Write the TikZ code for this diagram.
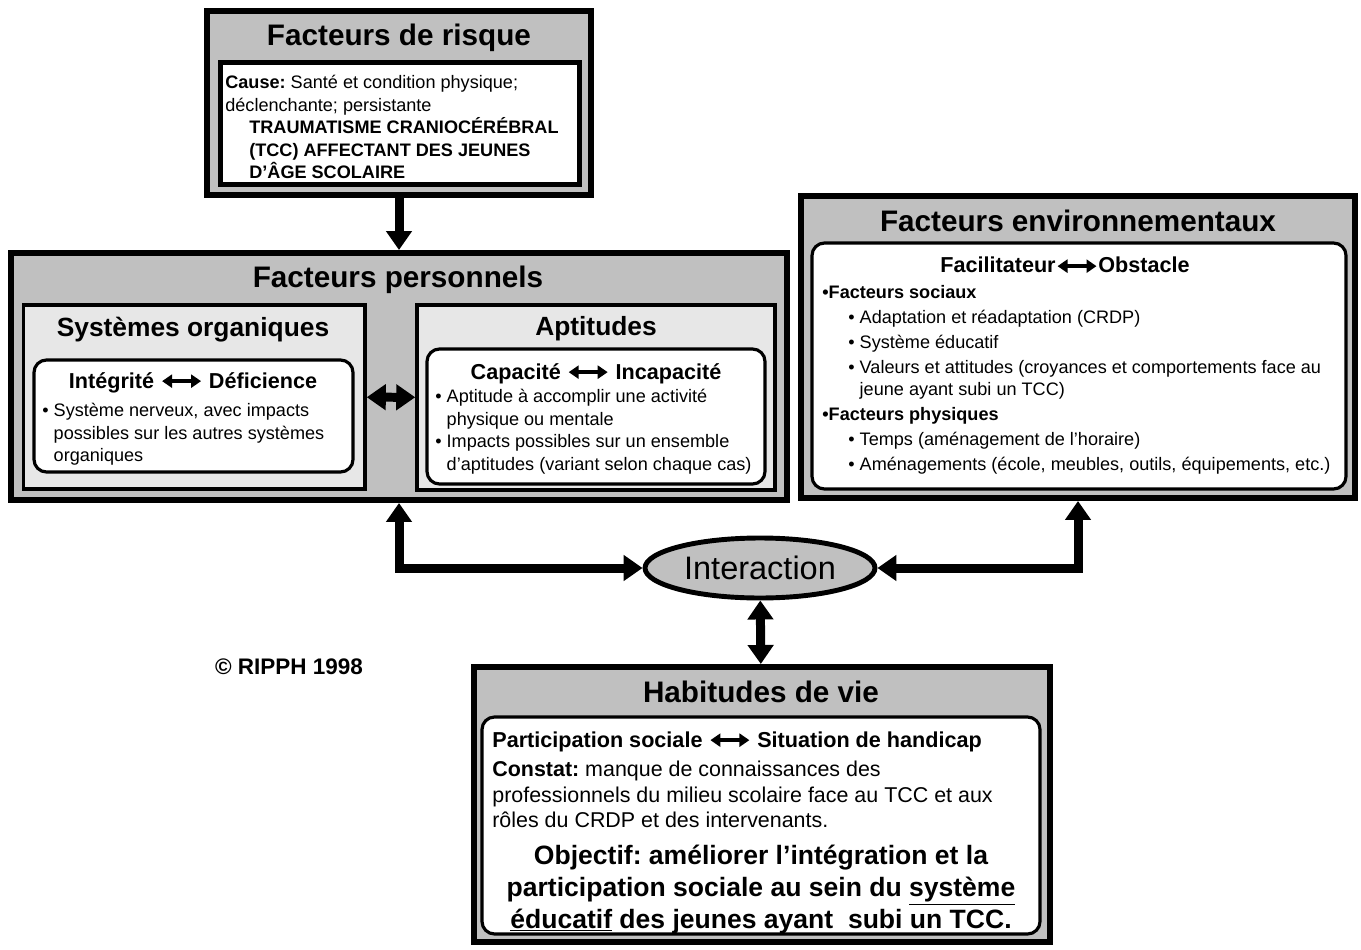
\documentclass[tikz,border=0pt]{standalone}
\usepackage{fontspec}
\setmainfont{Liberation Sans}
\usetikzlibrary{arrows.meta,positioning,shapes.geometric,fit}
\frenchspacing

\definecolor{boxgray}{RGB}{192,192,192}
\definecolor{subgray}{RGB}{231,231,231}

% small two-headed arrow used inside the headings
\newcommand{\twoway}{\tikz[baseline=-0.6ex]\draw[line width=0.075cm,{Triangle[width=0.26cm,length=0.2cm]}-{Triangle[width=0.26cm,length=0.2cm]}] (0,0)--(0.78cm,0);}
\newcommand{\hang}{\phantom{\textbullet\ }}

\begin{document}
\begin{tikzpicture}[x=0.02cm,y=-0.02cm,
 outerbox/.style={draw,line width=3.4pt,fill=boxgray,inner sep=0},
 subbox/.style={draw,line width=2pt,fill=subgray,inner sep=0},
 plainbox/.style={draw,line width=2.5pt,fill=white,inner sep=0},
 whitebox/.style={draw,line width=1.8pt,fill=white,rounded corners=0.25cm,inner sep=0},
 title/.style={font=\bfseries\fontsize{16.9}{20}\selectfont,anchor=base,inner sep=0},
 subtitle/.style={font=\bfseries\fontsize{15}{18}\selectfont,anchor=base,inner sep=0},
 head/.style={font=\bfseries\fontsize{12.3}{15}\selectfont,anchor=base,inner sep=0},
 bodytext/.style={align=left,inner sep=0,anchor=north west,font=\fontsize{10.3}{12.8}\selectfont},
 bigarrow/.style={line width=0.18cm,-{Triangle[width=0.5cm,length=0.38cm]}},
 bigboth/.style={bigarrow,{Triangle[width=0.5cm,length=0.38cm]}-{Triangle[width=0.5cm,length=0.38cm]}}]
\useasboundingbox (0,0) rectangle (1361,949);

% Facteurs de risque
\node[outerbox,fit={(207,11)(591,195)}] (risque) {};
\node[title] (risqueT) at (399,46) {Facteurs de risque};
\node[plainbox,fit={(220.5,62.5)(579.5,184.5)}] (risqueIn) {};
\node[bodytext] (risqueTxt) at (225,75) {\textbf{Cause:} Santé et condition physique;\\
 déclenchante; persistante\\
 \hspace*{0.48cm}\textbf{TRAUMATISME CRANIOCÉRÉBRAL}\\
 \hspace*{0.48cm}\textbf{(TCC) AFFECTANT DES JEUNES}\\
 \hspace*{0.48cm}\textbf{D’ÂGE SCOLAIRE}};

% Facteurs personnels
\node[outerbox,fit={(11,253)(787,500)}] (perso) {};
\node[title] (persoT) at (398,288) {Facteurs personnels};
\node[subbox,fit={(23.5,305)(365,489)}] (organ) {};
\node[subtitle] (organT) at (193,337) {Systèmes organiques};
\node[whitebox,fit={(34,360)(353,472)}] (organIn) {};
\node[head] (organH) at (193,388) {Intégrité \twoway{} Déficience};
\node[bodytext] (organTxt) at (42,403) {\textbullet\ Système nerveux, avec impacts\\
 \hang possibles sur les autres systèmes\\
 \hang organiques};
\node[subbox,fit={(417,305)(775,490)}] (apt) {};
\node[subtitle] (aptT) at (596,336) {Aptitudes};
\node[whitebox,fit={(427,349)(765,484)}] (aptIn) {};
\node[head] (aptH) at (596,379) {Capacité \twoway{} Incapacité};
\node[bodytext] (aptTxt) at (435,389) {\textbullet\ Aptitude à accomplir une activité\\
 \hang physique ou mentale\\
 \textbullet\ Impacts possibles sur un ensemble\\
 \hang d’aptitudes (variant selon chaque cas)};

% Facteurs environnementaux
\node[outerbox,fit={(801,196)(1355,498)}] (envir) {};
\node[title] (envirT) at (1078,232) {Facteurs environnementaux};
\node[whitebox,fit={(812,243)(1346,489)}] (envirIn) {};
\node[head] (envirH) at (1065,273) {Facilitateur\twoway Obstacle};
\node[bodytext,font=\fontsize{10.3}{14.2}\selectfont] (envirTxt) at (822,285) {\textbf{\textbullet Facteurs sociaux}\\
 \hspace*{0.52cm}\textbullet\ Adaptation et réadaptation (CRDP)\\
 \hspace*{0.52cm}\textbullet\ Système éducatif\\
 \hspace*{0.52cm}\textbullet\ Valeurs et attitudes (croyances et comportements face au\\[-1.7pt]
 \hspace*{0.52cm}\hang jeune ayant subi un TCC)\\
 \textbf{\textbullet Facteurs physiques}\\
 \hspace*{0.52cm}\textbullet\ Temps (aménagement de l’horaire)\\
 \hspace*{0.52cm}\textbullet\ Aménagements (école, meubles, outils, équipements, etc.)};

% Interaction
\node[ellipse,draw,line width=2.8pt,fill=boxgray,minimum width=4.6cm,minimum height=1.2cm,inner sep=0,font=\fontsize{18.5}{22}\selectfont] (inter) at (760,568) {Interaction};

% Habitudes de vie
\node[outerbox,fit={(474,667)(1050,942)}] (habit) {};
\node[title] (habitT) at (761,702) {Habitudes de vie};
\node[whitebox,fit={(482,717)(1040,934)}] (habitIn) {};
\node[head,anchor=base west] (habitH) at (492,747) {Participation sociale \twoway{} Situation de handicap};
\node[bodytext,font=\fontsize{12.2}{14.5}\selectfont] (habitTxt) at (492,761) {\textbf{Constat:} manque de connaissances des\\
 professionnels du milieu scolaire face au TCC et aux\\
 rôles du CRDP et des intervenants.};
\node[align=center,inner sep=0,anchor=north,font=\bfseries\fontsize{15.1}{18}\selectfont] (objTxt) at (761,845) {Objectif: améliorer l’intégration et la\\
 participation sociale au sein du \underline{système}\\
 \underline{éducatif} des jeunes ayant\ \ subi un TCC.};

\node[font=\bfseries\fontsize{12.8}{15}\selectfont] (copy) at (289,667) {© RIPPH 1998};

% connectors
\draw[bigarrow] (risque) -- (perso);
\draw[bigboth] (organ) -- (apt);
\draw[bigboth] (perso.south) |- (inter.west);
\draw[bigboth] (envir.south) |- (inter.east);
\draw[bigboth] (inter) -- (habit);
\end{tikzpicture}
\end{document}
